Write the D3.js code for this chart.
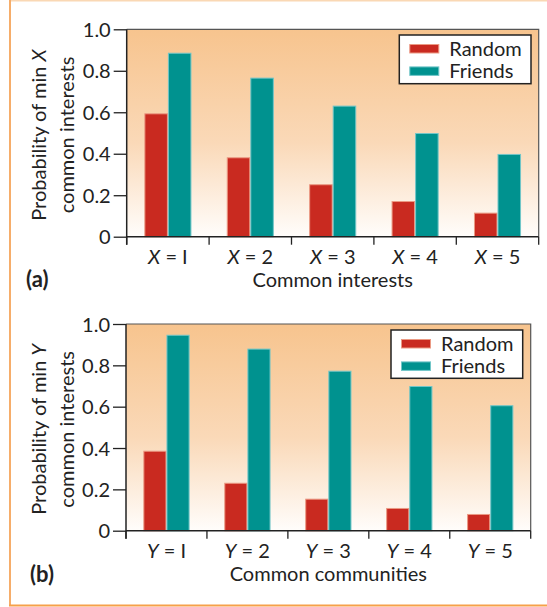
<!DOCTYPE html>
<html><head><meta charset="utf-8">
<script src="https://cdn.jsdelivr.net/npm/d3@7"></script>
<style>
body{margin:0;background:#fff;}
svg{display:block;font-family:Lato, "Open Sans", sans-serif;}
</style></head>
<body>
<svg id="c" width="547" height="607"></svg>
<script>
const categoriesA = ["1","2","3","4","5"];
const randomA = [0.595, 0.383, 0.253, 0.172, 0.116];
const friendsA = [0.887, 0.767, 0.632, 0.500, 0.399];
const categoriesB = ["1","2","3","4","5"];
const randomB = [0.387, 0.232, 0.155, 0.110, 0.081];
const friendsB = [0.948, 0.881, 0.774, 0.700, 0.607];
const yTicks = [0, 0.2, 0.4, 0.6, 0.8, 1.0];
const seriesNames = ["Random", "Friends"];

const FS = 20;
const svg = d3.select("#c");
const defs = svg.append("defs");
const grad = defs.append("linearGradient").attr("id","bg").attr("x1",0).attr("y1",0).attr("x2",0).attr("y2",1);
grad.append("stop").attr("offset","0%").attr("stop-color","#f7c48e");
grad.append("stop").attr("offset","55%").attr("stop-color","#fad9b8");
grad.append("stop").attr("offset","100%").attr("stop-color","#fffdfb");

// outer frame
svg.append("line").attr("x1",10).attr("x2",547).attr("y1",0.5).attr("y2",0.5).attr("stroke","#fad8b4").attr("stroke-width",2);
svg.append("line").attr("x1",10).attr("x2",10).attr("y1",0).attr("y2",606).attr("stroke","#f6ad6a").attr("stroke-width",2);
svg.append("line").attr("x1",9).attr("x2",547).attr("y1",605.5).attr("y2",605.5).attr("stroke","#f6a04a").attr("stroke-width",2);

const colors = {Random:{fill:"#c92a20", stroke:"#eb9a84"}, Friends:{fill:"#00928f", stroke:"#72c6c8"}};

function panel(opt){
  const {cats, rnd, frd, letter, x0, x1, y0, y1, xTitle, yLetter, tag, legend} = opt;
  const g = svg.append("g");
  const x = d3.scaleBand().domain(cats).range([x0, x1]).paddingInner(0).paddingOuter(0);
  const y = d3.scaleLinear().domain([0,1]).range([y1, y0]);
  const bw = x.bandwidth();
  const sub = d3.scaleBand().domain(seriesNames).range([0, bw]).paddingInner(0).paddingOuter(0.75);
  g.append("rect").attr("x",x0).attr("y",y0).attr("width",x1-x0).attr("height",y1-y0).attr("fill","url(#bg)");
  // top/right border
  g.append("path").attr("d",`M${x0},${y0}H${x1}V${y1}`).attr("fill","none").attr("stroke","#555").attr("stroke-width",1.2);
  const data = cats.map((c,i)=>({c, Random:rnd[i], Friends:frd[i]}));
  seriesNames.forEach(s=>{
    g.selectAll(null).data(data).enter().append("rect")
      .attr("x",d=>x(d.c)+sub(s)+0.5).attr("width",sub.bandwidth()-1)
      .attr("y",d=>y(d[s])+0.5).attr("height",d=>y(0)-y(d[s])-0.5)
      .attr("fill",colors[s].fill).attr("stroke",colors[s].stroke).attr("stroke-width",1);
  });
  // y axis
  const ya = d3.axisLeft(y).tickValues(yTicks).tickSize(13).tickPadding(3)
    .tickFormat(d=> d===0 ? "0" : d3.format(".1f")(d));
  const yg = g.append("g").attr("transform",`translate(${x0},0)`).call(ya);
  yg.attr("font-size",FS).attr("font-family","Lato, sans-serif");
  yg.select(".domain").remove();
  yg.selectAll("line").attr("stroke","#222").attr("stroke-width",1.3);
  yg.selectAll("text").attr("font-size",FS).attr("fill","#222").attr("dy","0.35em");
  g.append("line").attr("x1",x0).attr("x2",x0).attr("y1",y0).attr("y2",y1+8).attr("stroke","#222").attr("stroke-width",1.5);
  // x axis
  const tickPos = cats.map(c=>x(c)).concat([x1]);
  g.append("line").attr("x1",x0).attr("x2",x1).attr("y1",y1).attr("y2",y1).attr("stroke","#222").attr("stroke-width",1.5);
  g.selectAll(null).data(tickPos).enter().append("line")
    .attr("x1",d=>d).attr("x2",d=>d).attr("y1",y1).attr("y2",y1+8).attr("stroke","#222").attr("stroke-width",1.3);
  const lab = g.selectAll(null).data(cats).enter().append("text")
    .attr("x",d=>x(d)+bw/2).attr("y",y1+27).attr("text-anchor","middle").attr("font-size",FS).attr("fill","#222");
  lab.append("tspan").attr("font-style","italic").text(letter);
  lab.append("tspan").text(d=>" = "+(d==="1"?"I":d));
  g.append("text").attr("x",(x0+x1)/2).attr("y",y1+50).attr("text-anchor","middle").attr("font-size",FS).attr("fill","#222").text(xTitle);
  g.append("text").attr("x",tag[0]).attr("y",tag[1]).attr("font-size",22).attr("font-weight","bold").attr("fill","#222").text(opt.tagText);
  // y title
  const cy = (y0+y1)/2+2;
  const t1 = g.append("text").attr("transform",`translate(46,${cy}) rotate(-90)`).attr("text-anchor","middle").attr("font-size",FS).attr("fill","#222");
  t1.append("tspan").text("Probability of min ");
  t1.append("tspan").attr("font-style","italic").text(yLetter);
  g.append("text").attr("transform",`translate(74,${cy}) rotate(-90)`).attr("text-anchor","middle").attr("font-size",FS).attr("fill","#222").text("common interests");
  // legend
  const [lx, ly, lw, lh] = legend;
  g.append("rect").attr("x",lx).attr("y",ly).attr("width",lw).attr("height",lh).attr("fill","#fff").attr("stroke","#222").attr("stroke-width",1.5);
  seriesNames.forEach((s,i)=>{
    g.append("rect").attr("x",lx+10.5).attr("y",ly+9.5+i*22.4).attr("width",29).attr("height",8.5)
      .attr("fill",colors[s].fill).attr("stroke",colors[s].stroke).attr("stroke-width",1);
    g.append("text").attr("x",lx+50).attr("y",ly+20.5+i*22.4).attr("font-size",FS).attr("fill","#222").text(s);
  });
}

panel({cats:categoriesA, rnd:randomA, frd:friendsA, letter:"X", yLetter:"X", x0:126.7, x1:538.7, y0:29.3, y1:236.7,
  xTitle:"Common interests", tag:[26,287], tagText:"(a)", legend:[399.3,35,131.7,48.7]});
panel({cats:categoriesB, rnd:randomB, frd:friendsB, letter:"Y", yLetter:"Y", x0:126, x1:530.7, y0:324, y1:530.7,
  xTitle:"Common communities", tag:[30,582], tagText:"(b)", legend:[391,330,131.7,48.3]});
</script>
</body></html>
